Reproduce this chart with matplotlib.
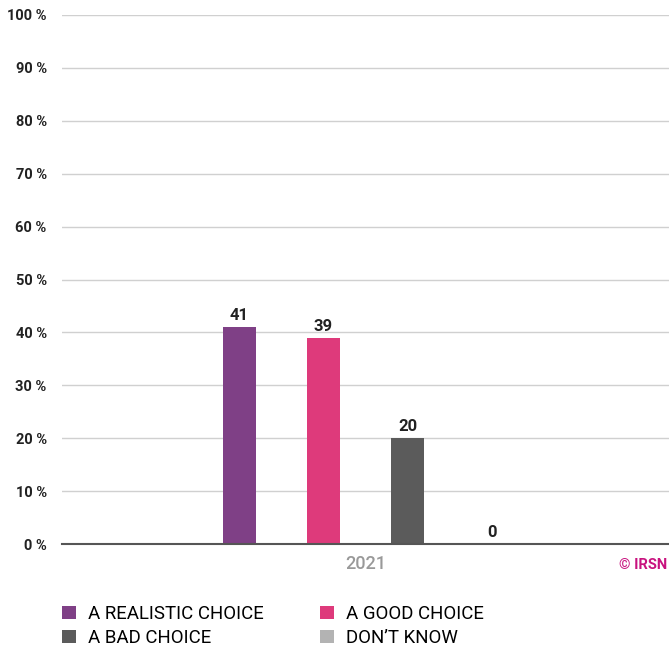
import numpy as np
import matplotlib.pyplot as plt
from matplotlib.patches import Patch

plt.rcParams['font.family'] = ['Roboto', 'DejaVu Sans']

# data
categories = ['A REALISTIC CHOICE', 'A GOOD CHOICE', 'A BAD CHOICE', 'DON\u2019T KNOW']
values = [41, 39, 20, 0]
colors = ['#7f4086', '#de3a7b', '#5b5b5b', '#b3b3b3']
year = '2021'
yticks = [0, 10, 20, 30, 40, 50, 60, 70, 80, 90, 100]

fig = plt.figure(figsize=(6.69, 6.51), dpi=100)
ax = fig.add_axes([62/669, 107/651, 607/669, 529/651])

offsets = np.arange(len(values)) - (len(values) - 1) / 2
bars = ax.bar(offsets, values, width=0.39, color=colors, zorder=3)
for x, v in zip(offsets, values):
    ax.text(x, v + 0.7, str(v), ha='center', va='bottom', fontsize=12,
            fontweight='bold', color='#222222')

ax.set_xlim(-3.61, 3.61)
ax.set_ylim(0, 100)
ax.set_yticks(yticks)
ax.set_yticklabels([f'{t} %' for t in yticks], fontsize=10.5, fontweight='bold',
                   color='#222222')
ax.tick_params(axis='y', length=0, pad=11)
ax.set_xticks([0])
ax.set_xticklabels([year], fontsize=13, fontweight='medium', color='#999999')
ax.tick_params(axis='x', length=0, pad=8)
ax.grid(axis='y', color='#d0d0d0', linewidth=1, zorder=0)
for s in ['top', 'right', 'left']:
    ax.spines[s].set_visible(False)
ax.spines['bottom'].set_color('#555555')
ax.spines['bottom'].set_linewidth(1.5)
ax.spines['bottom'].set_zorder(4)

fig.text(667/669, 1 - 565/651, '\u00a9 IRSN', ha='right', va='center',
         fontsize=10.5, fontweight='bold', color='#c8127f')

# legend filled row by row like the reference
order = [0, 2, 1, 3]
handles = [Patch(facecolor=colors[i], edgecolor='none') for i in order]
labels = [categories[i] for i in order]
fig.legend(handles, labels, loc='upper left', bbox_to_anchor=(62/669, 1 - 605/651),
           ncol=2, frameon=False, fontsize=13.4, handlelength=0.75, handleheight=0.75,
           handletextpad=0.65, columnspacing=3.0, labelspacing=0.33,
           borderaxespad=0, borderpad=0)

fig.savefig('out.png', dpi=100)
